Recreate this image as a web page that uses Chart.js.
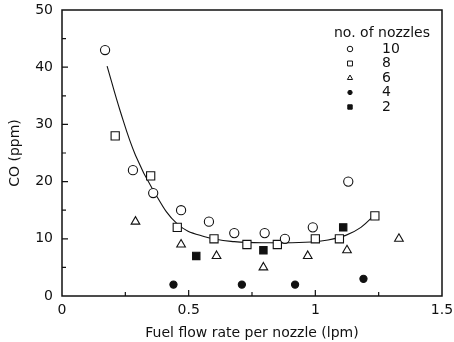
<!DOCTYPE html>
<html lang="en">
<head>
    <meta charset="UTF-8">
    <title>CO vs fuel flow rate</title>
    <script src="https://cdn.jsdelivr.net/npm/chart.js"></script>
    <style>
        html, body { margin: 0; padding: 0; background: #fff; }
        #wrap { width: 454px; height: 342px; }
    </style>
</head>
<body>
    <div id="wrap"><canvas id="coChart"></canvas></div>
    <script>
        // values: [fuel flow per nozzle (lpm), CO (ppm)]
        const nozzles10 = [[0.17, 43], [0.28, 22], [0.36, 18], [0.47, 15], [0.58, 13], [0.68, 11], [0.80, 11], [0.88, 10], [0.99, 12], [1.13, 20]];
        const nozzles8 = [[0.21, 28], [0.35, 21], [0.455, 12], [0.60, 10], [0.73, 9], [0.85, 9], [1.0, 10], [1.095, 10], [1.235, 14]];
        const nozzles6 = [[0.29, 13], [0.47, 9], [0.61, 7], [0.795, 5], [0.97, 7], [1.125, 8], [1.33, 10]];
        const nozzles4 = [[0.44, 2], [0.71, 2], [0.92, 2], [1.19, 3]];
        const nozzles2 = [[0.53, 7], [0.795, 8], [1.11, 12]];
        const fitCurve = [[0.178, 40.2], [0.23, 32.3], [0.29, 24.6], [0.36, 18.5], [0.455, 12.6], [0.56, 10.4], [0.68, 9.5], [0.82, 9.3], [0.96, 9.4], [1.05, 9.8], [1.12, 10.6], [1.18, 12.0], [1.237, 14.3]];
        const legendLabels = ["10", "8", "6", "4", "2"];
        const xTicks = [0, 0.5, 1, 1.5];
        const yTicks = [0, 10, 20, 30, 40, 50];

        const FONT = "'DejaVu Sans', sans-serif";
        const toXY = arr => arr.map(p => ({ x: p[0], y: p[1] }));

        const markers = [
            { style: "circle", radius: 4.6, fill: "#fff" },
            { style: "rect", radius: 5.8, fill: "#fff" },
            { style: "triangle", radius: 5.0, fill: "#fff" },
            { style: "circle", radius: 3.6, fill: "#111" },
            { style: "rect", radius: 5.2, fill: "#111" }
        ];
        const series = [nozzles10, nozzles8, nozzles6, nozzles4, nozzles2];

        const datasets = series.map((s, i) => ({
            type: "scatter",
            label: legendLabels[i],
            data: toXY(s),
            pointStyle: markers[i].style,
            pointRadius: markers[i].radius,
            pointBackgroundColor: markers[i].fill,
            pointBorderColor: "#111",
            pointBorderWidth: 1.1,
            order: 1
        }));
        datasets.push({
            type: "line",
            label: "fit",
            data: toXY(fitCurve),
            borderColor: "#111",
            borderWidth: 1.1,
            pointRadius: 0,
            tension: 0.4,
            fill: false,
            order: 2
        });

        // frame, inward ticks and the legend block
        const framePlugin = {
            id: "frame",
            afterDraw(chart) {
                const ctx = chart.ctx;
                const a = chart.chartArea;
                const xs = chart.scales.x, ys = chart.scales.y;
                ctx.save();
                ctx.strokeStyle = "#111";
                ctx.lineWidth = 1.5;
                ctx.strokeRect(a.left, a.top, a.right - a.left, a.bottom - a.top);
                ctx.lineWidth = 1.2;
                ctx.beginPath();
                for (let v = 0.25; v < 1.5; v += 0.25) {
                    const px = xs.getPixelForValue(v);
                    const len = (v % 0.5 === 0) ? 6 : 4;
                    ctx.moveTo(px, a.bottom); ctx.lineTo(px, a.bottom - len);
                }
                for (let v = 5; v < 50; v += 5) {
                    const py = ys.getPixelForValue(v);
                    const len = (v % 10 === 0) ? 6 : 4;
                    ctx.moveTo(a.left, py); ctx.lineTo(a.left + len, py);
                }
                ctx.stroke();

                // legend
                ctx.fillStyle = "#111";
                ctx.font = "14px " + FONT;
                ctx.textBaseline = "middle";
                ctx.textAlign = "left";
                ctx.fillText("no. of nozzles", 334, 33);
                legendLabels.forEach((lab, i) => {
                    const y = 49 + i * 14.5;
                    const m = markers[i];
                    ctx.fillStyle = m.fill;
                    ctx.strokeStyle = "#111";
                    ctx.lineWidth = 1;
                    Chart.helpers.drawPoint(ctx, { pointStyle: m.style, radius: m.radius * 0.6, borderWidth: 1 }, 350, y);
                    ctx.fillStyle = "#111";
                    ctx.fillText(lab, 382, y);
                });
                ctx.restore();
            }
        };

        new Chart(document.getElementById("coChart"), {
            data: { datasets: datasets },
            options: {
                responsive: true,
                maintainAspectRatio: false,
                animation: false,
                layout: { padding: { top: 10, right: 12, left: 0, bottom: 0 } },
                plugins: { legend: { display: false }, tooltip: { enabled: false } },
                scales: {
                    x: {
                        type: "linear",
                        min: 0, max: 1.5,
                        afterBuildTicks: s => { s.ticks = xTicks.map(v => ({ value: v })); },
                        afterFit: s => { s.height = 46; s.paddingLeft = 0; s.paddingRight = 0; },
                        grid: { display: false, drawTicks: false },
                        border: { display: false },
                        ticks: { color: "#111", font: { family: FONT, size: 14 }, padding: 6, maxRotation: 0,
                                 callback: v => String(v) },
                        title: { display: true, text: "Fuel flow rate per nozzle (lpm)", color: "#111",
                                 font: { family: FONT, size: 14 }, padding: { top: 0, bottom: 0 } }
                    },
                    y: {
                        type: "linear",
                        min: 0, max: 50,
                        afterBuildTicks: s => { s.ticks = yTicks.map(v => ({ value: v })); },
                        afterFit: s => { s.width = 62; s.paddingTop = 0; s.paddingBottom = 0; },
                        grid: { display: false, drawTicks: false },
                        border: { display: false },
                        ticks: { color: "#111", font: { family: FONT, size: 14 }, padding: 9 },
                        title: { display: true, text: "CO (ppm)", color: "#111",
                                 font: { family: FONT, size: 14 }, padding: { top: 7, bottom: 0 } }
                    }
                }
            },
            plugins: [framePlugin]
        });
    </script>
</body>
</html>
